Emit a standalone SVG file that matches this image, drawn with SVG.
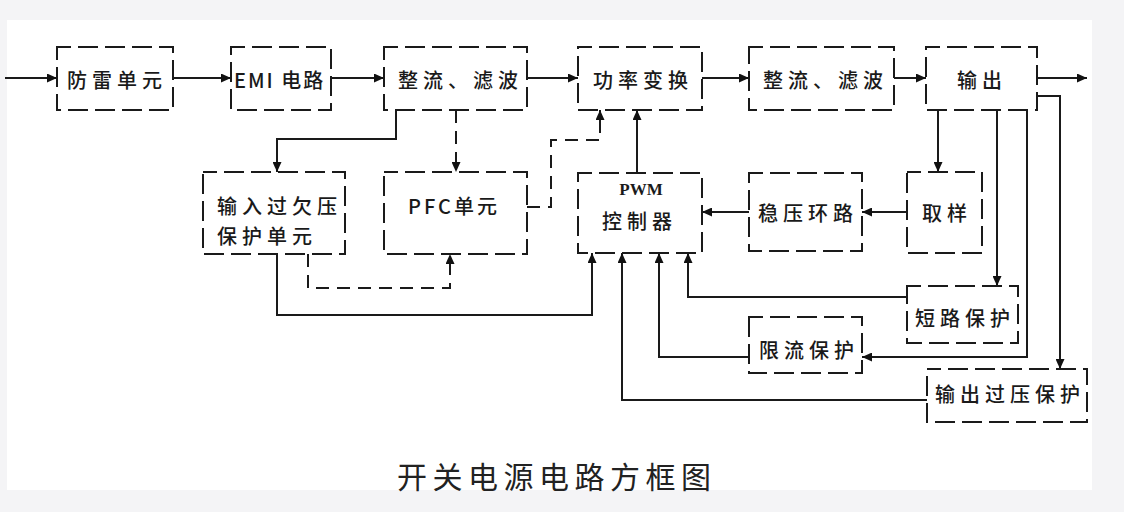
<svg xmlns="http://www.w3.org/2000/svg" width="1124" height="512" viewBox="0 0 1124 512">
<defs>
<marker id="ah" markerUnits="userSpaceOnUse" markerWidth="10" markerHeight="9" refX="10" refY="4.5" orient="auto">
<path d="M0,0 L10,4.5 L0,9 z" fill="#111"/>
</marker>
</defs>
<style>
.box{fill:none;stroke:#1a1a1a;stroke-width:2;stroke-dasharray:20 7;stroke-dashoffset:6}
.c{fill:none;stroke:#1a1a1a;stroke-width:2;marker-end:url(#ah)}
.d{stroke-dasharray:13 8}
.t{font-family:"Noto Sans CJK SC","Noto Sans",sans-serif;font-size:20px;font-weight:500;fill:#1a1a1a;letter-spacing:5px;dominant-baseline:central}
.s{font-family:"Liberation Serif",serif;font-size:17px;font-weight:bold;fill:#1a1a1a;dominant-baseline:central}
.title{font-family:"Noto Sans CJK SC",sans-serif;font-size:30px;fill:#222;letter-spacing:5.5px;dominant-baseline:central}
</style>
<rect x="0" y="0" width="1124" height="512" fill="#f4f4f6"/>
<rect x="7" y="20" width="1085" height="470" fill="#ffffff"/>

<g id="connectors">
<path class="c" d="M5,78 H57"/>
<path class="c" d="M173,78 H231"/>
<path class="c" d="M331,78 H384"/>
<path class="c" d="M527,78 H578"/>
<path class="c" d="M702,78 H749"/>
<path class="c" d="M894,78 H926"/>
<path class="c" d="M1037,78 H1087"/>
<path class="c" d="M396,110 V139 H277 V172"/>
<path class="c d" d="M456,110 V172"/>
<path class="c d" d="M527,207 H551 V140 H600 V110"/>
<path class="c" d="M637,172 V110"/>
<path class="c d" d="M308,254 V288 H450 V254"/>
<path class="c" d="M277,254 V315 H592 V253"/>
<path class="c" d="M749,212 H702"/>
<path class="c" d="M907,212 H862"/>
<path class="c" d="M938,110 V172"/>
<path class="c" d="M997,110 V286"/>
<path class="c" d="M1027,110 V357 H862"/>
<path class="c" d="M1037,96 H1060 V369"/>
<path class="c" d="M907,297 H688 V253"/>
<path class="c" d="M749,357 H659 V253"/>
<path class="c" d="M927,400 H622 V253"/>
</g>

<g id="n-fanglei"><rect class="box" x="57" y="47" width="116" height="63"/><text class="t" x="67" y="79">防雷单元</text></g>
<g id="n-emi"><rect class="box" x="231" y="47" width="100" height="63"/><text class="t" x="234" y="79" style="letter-spacing:2px">EMI 电路</text></g>
<g id="n-zhengliu1"><rect class="box" x="384" y="47" width="143" height="63"/><text class="t" x="398" y="79">整流、滤波</text></g>
<g id="n-gonglv"><rect class="box" x="578" y="47" width="124" height="63"/><text class="t" x="593" y="79">功率变换</text></g>
<g id="n-zhengliu2"><rect class="box" x="749" y="47" width="145" height="63"/><text class="t" x="763" y="79">整流、滤波</text></g>
<g id="n-shuchu"><rect class="box" x="926" y="47" width="111" height="63"/><text class="t" x="957" y="79">输出</text></g>
<g id="n-input-prot"><rect class="box" x="203" y="172" width="142" height="82"/><text class="t" x="217" y="205">输入过欠压</text><text class="t" x="217" y="235">保护单元</text></g>
<g id="n-pfc"><rect class="box" x="384" y="172" width="143" height="82"/><text class="t" x="408" y="205" style="letter-spacing:3px">PFC单元</text></g>
<g id="n-pwm"><rect class="box" x="578" y="173" width="124" height="80"/><text class="s" x="641" y="189" text-anchor="middle">PWM</text><text class="t" x="602" y="220">控制器</text></g>
<g id="n-wenya"><rect class="box" x="749" y="173" width="113" height="78"/><text class="t" x="758" y="212">稳压环路</text></g>
<g id="n-quyang"><rect class="box" x="907" y="172" width="75" height="81"/><text class="t" x="922" y="212">取样</text></g>
<g id="n-duanlu"><rect class="box" x="907" y="286" width="111" height="57"/><text class="t" x="915" y="317">短路保护</text></g>
<g id="n-xianliu"><rect class="box" x="749" y="317" width="113" height="56"/><text class="t" x="759" y="349">限流保护</text></g>
<g id="n-guoya"><rect class="box" x="927" y="369" width="160" height="53"/><text class="t" x="935" y="393">输出过压保护</text></g>

<text class="title" x="397" y="475">开关电源电路方框图</text>
</svg>
